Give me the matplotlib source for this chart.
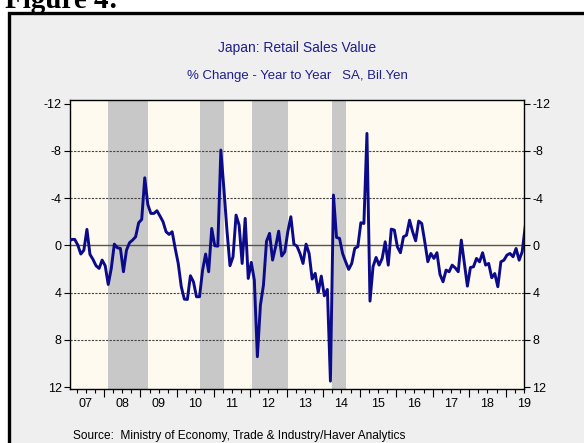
import matplotlib
matplotlib.use("Agg")
import matplotlib.pyplot as plt
import matplotlib.patches as patches
from matplotlib.ticker import FixedLocator, NullFormatter
import matplotlib.transforms as mtransforms
import numpy as np
import pandas as pd

# ---------------- data ----------------
start_month = "2007-01"
retail_yoy = [
    -0.31, -0.51, -0.51, -0.03, 0.73, 0.40, -1.36, 0.76, 1.19, 1.72, 1.95, 1.24,   # 2007
    1.72, 3.31, 1.95, -0.11, 0.20, 0.25, 2.23, 0.40, -0.23, -0.45, -0.73, -1.92,   # 2008
    -2.20, -5.73, -3.47, -2.71, -2.71, -2.94, -2.49, -2.01, -1.16, -0.93, -1.16, 0.25,  # 2009
    1.53, 3.50, 4.55, 4.58, 2.57, 3.08, 4.35, 4.35, 2.09, 0.73, 2.23, -1.44,   # 2010
    0.03, 0.06, -8.08, -4.80, -1.30, 1.72, 0.96, -2.57, -1.72, 1.53, -2.29, 2.80,  # 2011
    1.44, 2.94, 9.43, 5.06, 3.36, -0.35, -1.02, 1.24, 0.11, -1.21, 0.90, 0.54,   # 2012
    -1.16, -2.43, -0.11, 0.06, 0.68, 1.53, -0.11, 0.68, 2.85, 2.37, 3.98, 2.60,  # 2013
    4.27, 3.73, 11.50, -4.27, -0.68, -0.59, 0.68, 1.38, 2.03, 1.53, 0.25, 0.11,  # 2014
    -1.92, -1.86, -9.49, 4.72, 1.80, 1.02, 1.67, 1.10, -0.31, 1.67, -1.38, -1.30,  # 2015
    0.12, 0.62, -0.73, -0.87, -2.14, -1.16, -0.39, -2.06, -1.86, -0.31, 1.38, 0.68,  # 2016
    1.10, 0.62, 2.46, 3.08, 2.09, 2.23, 1.67, 1.90, 2.23, -0.45, 1.53, 3.45,   # 2017
    1.87, 1.81, 1.10, 1.39, 0.62, 1.67, 1.53, 2.74, 2.38, 3.50, 1.39, 1.25,   # 2018
    0.82, 0.68, 0.96, 0.26, 1.25, 0.54, -1.60,                                  # 2019
]
# recession shading (start, end) in decimal years
recessions = [(2008.12, 2009.20), (2010.635, 2011.30), (2012.05, 2013.05), (2014.23, 2014.63)]
year_labels = ["07", "08", "09", "10", "11", "12", "13", "14", "15", "16", "17", "18", "19"]
label_years = list(range(2007, 2020))
y_ticks = [-12, -8, -4, 0, 4, 8, 12]

title = "Japan: Retail Sales Value"
subtitle = "% Change - Year to Year   SA, Bil.Yen"
source = "Source:  Ministry of Economy, Trade & Industry/Haver Analytics"

# ---------------- figure ----------------
W, H = 584, 443
fig = plt.figure(figsize=(W / 100, H / 100), dpi=100)
fig.patch.set_facecolor("white")
plt.rcParams["font.family"] = ["Liberation Sans", "DejaVu Sans"]

def fx(px):
    return px / W

def fy(py):
    return 1 - py / H

# panel box with thick black border
box = patches.Rectangle((fx(9), fy(700)), fx(900), fy(13) - fy(700),
                        transform=fig.transFigure, facecolor="#efefef",
                        edgecolor="black", linewidth=2.4, zorder=-10)
fig.patches.append(box)

fig.text(fx(5), fy(8), "Figure 4:", fontsize=21, fontweight="bold",
         family=["Liberation Serif", "DejaVu Serif"], ha="left", va="baseline", color="black")

navy_txt = "#1e1e8c"
fig.text(fx(297), fy(48), title, fontsize=10, color=navy_txt, ha="center", va="center")
fig.text(fx(297), fy(76), subtitle, fontsize=9.5, color=navy_txt, ha="center", va="center")
fig.text(fx(73), fy(436), source, fontsize=8.6, color="black", ha="left", va="center")

# axes
L, R, T, B = 70, 524, 100, 389.3
ax = fig.add_axes([fx(L), fy(B), fx(R - L), fy(T) - fy(B)])
ax.set_zorder(5)
ax.set_facecolor("#fffaf0")

months = pd.period_range(start_month, periods=len(retail_yoy), freq="M")
xvals = np.array([p.year + (p.month - 1 + 0.4) / 12 for p in months])

for s, e in recessions:
    ax.axvspan(s, e, color="#c8c8c8", zorder=1, linewidth=0)

for yv in [-8, -4, 4, 8]:
    ax.axhline(yv, color="#444444", linewidth=0.8, linestyle=(0, (2, 1.2)), zorder=2)
ax.axhline(0, color="#555555", linewidth=1.0, zorder=2)

ax.plot(xvals, retail_yoy, color="#0a0a8a", linewidth=2.1, zorder=3, solid_joinstyle="round")

ax.set_xlim(2007.07, 2019.50)
ax.set_ylim(12.19, -12.32)

ax.yaxis.set_major_locator(FixedLocator(y_ticks))
ax.set_yticklabels([str(t) for t in y_ticks])
ax.tick_params(axis="y", which="both", direction="out", length=4, width=0.8,
               labelsize=9, left=True, right=True, labelleft=True, labelright=True, pad=2)

ax.xaxis.set_major_locator(FixedLocator(list(range(2008, 2020))))
ax.xaxis.set_minor_locator(FixedLocator([y + q / 4 for y in range(2007, 2020) for q in (1, 2, 3)]))
ax.xaxis.set_major_formatter(NullFormatter())
ax.tick_params(axis="x", which="major", direction="out", length=6, width=0.8)
ax.tick_params(axis="x", which="minor", direction="out", length=3, width=0.8)

trans = mtransforms.blended_transform_factory(ax.transData, ax.transAxes)
for yr, lab in zip(label_years, year_labels):
    ax.text(yr + 0.5, -14.5 / (B - T), lab, transform=trans, ha="center", va="center",
            fontsize=9, clip_on=False)

for sp in ax.spines.values():
    sp.set_color("black")
    sp.set_linewidth(1.0)

fig.savefig("out.png", dpi=100)
